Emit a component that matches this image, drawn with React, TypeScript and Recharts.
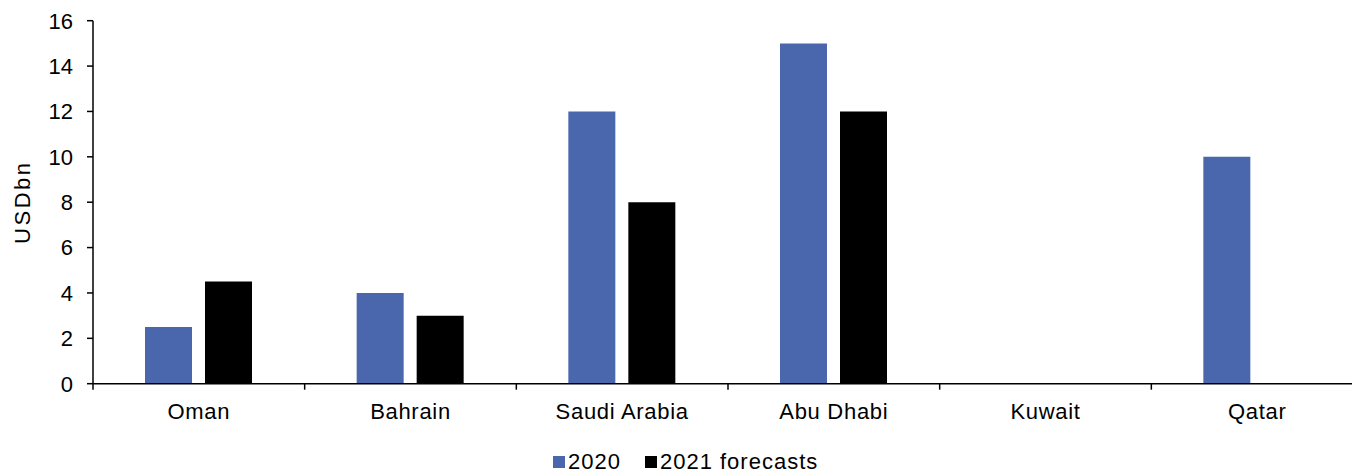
import { BarChart, Bar, XAxis, YAxis, Legend } from 'recharts';

const categories = ['Oman', 'Bahrain', 'Saudi Arabia', 'Abu Dhabi', 'Kuwait', 'Qatar'];
const values2020 = [2.5, 4, 12, 15, 0, 10];
const values2021 = [4.5, 3, 8, 12, 0, 0];
const yTicks = [0, 2, 4, 6, 8, 10, 12, 14, 16];

const data = categories.map((name, i) => ({
  name,
  y2020: values2020[i],
  y2021: values2021[i],
}));

const BLUE = '#4A66AC';
const FONT = '"Liberation Sans", Arial, sans-serif';
const TICK_SIZE = 6;
const TICK_MARGIN = 14;

// category label plus tick marks at the band edges (Excel style)
function CategoryTick(props: any) {
  const { x, y, payload, index, visibleTicksCount } = props;
  const half = payload.offset ?? 0;
  const axisY = y - TICK_SIZE - TICK_MARGIN;
  const isLast = index === visibleTicksCount - 1;
  return (
    <g>
      <line x1={x - half} x2={x - half} y1={axisY} y2={axisY + TICK_SIZE} stroke="#000" strokeWidth={1.5} />
      {isLast && <line x1={x + half} x2={x + half} y1={axisY} y2={axisY + TICK_SIZE} stroke="#000" strokeWidth={1.5} />}
      <text x={x} y={y} dy="0.71em" textAnchor="middle" fontSize={22} letterSpacing={0.7} fontFamily={FONT} fill="#000">
        {payload.value}
      </text>
    </g>
  );
}

function LegendBox() {
  const item = (color: string, text: string, ml: number) => (
    <div style={{ display: 'flex', alignItems: 'center', marginLeft: ml }}>
      <span style={{ width: 12, height: 12, background: color, display: 'inline-block', marginRight: 3 }} />
      <span style={{ fontSize: 22, letterSpacing: 1, color: '#000', lineHeight: '24px' }}>{text}</span>
    </div>
  );
  return (
    <div style={{ display: 'flex', height: 24, paddingLeft: 553, fontFamily: FONT }}>
      {item(BLUE, '2020', 0)}
      {item('#000', '2021 forecasts', 24)}
    </div>
  );
}

export default function App() {
  return (
    <div style={{ position: 'absolute', left: 0, top: 0, width: 1352, height: 474, overflow: 'hidden', background: '#fff' }}>
      <BarChart
        width={1370}
        height={474}
        data={data}
        margin={{ top: 20.7, right: 7, left: 0, bottom: 0 }}
        barSize={47}
        barGap={13}
      >
        <XAxis
          dataKey="name"
          height={66.3}
          tickLine={false}
          tickSize={TICK_SIZE}
          tickMargin={TICK_MARGIN}
          axisLine={{ stroke: '#000', strokeWidth: 1.5 }}
          tick={<CategoryTick />}
          interval={0}
        />
        <YAxis
          width={93}
          domain={[0, 16]}
          ticks={yTicks}
          interval={0}
          tickSize={6}
          tickMargin={14}
          axisLine={{ stroke: '#000', strokeWidth: 1.5 }}
          tickLine={{ stroke: '#000', strokeWidth: 1.5 }}
          tick={{ fill: '#000', fontSize: 22, fontFamily: FONT }}
          label={({ viewBox }: any) => {
            const cy = viewBox.y + viewBox.height / 2;
            return (
              <text
                x={23}
                y={cy}
                transform={`rotate(-90, 23, ${cy})`}
                textAnchor="middle"
                dominantBaseline="central"
                fontSize={22}
                letterSpacing={2.5}
                fontFamily={FONT}
                fill="#000"
              >
                USDbn
              </text>
            );
          }}
        />
        <Legend verticalAlign="bottom" height={24} content={() => <LegendBox />} wrapperStyle={{ left: 0, width: 1370 }} />
        <Bar dataKey="y2020" name="2020" fill={BLUE} isAnimationActive={false} />
        <Bar dataKey="y2021" name="2021 forecasts" fill="#000" isAnimationActive={false} />
      </BarChart>
    </div>
  );
}
